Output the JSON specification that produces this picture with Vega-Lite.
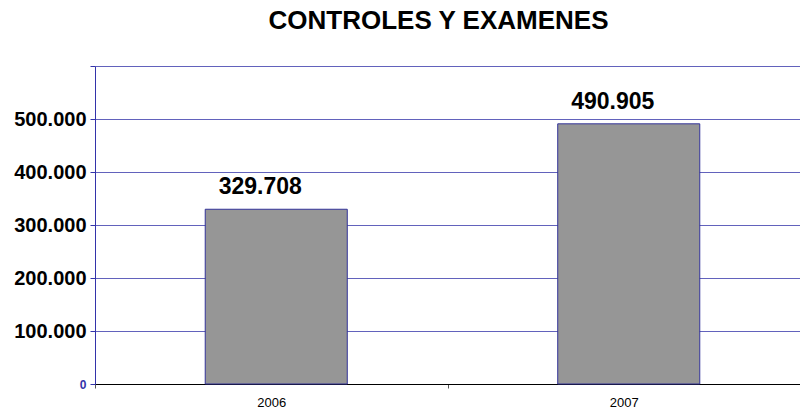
{
  "$schema": "https://vega.github.io/schema/vega-lite/v6.json",
  "autosize": {"type": "none"},
  "width": 705,
  "height": 318,
  "padding": {"left": 95, "top": 66, "right": 0, "bottom": 28},
  "background": "white",
  "title": {
    "text": "CONTROLES Y EXAMENES",
    "font": "Liberation Sans",
    "fontSize": 26,
    "fontWeight": "bold",
    "color": "black",
    "anchor": "middle",
    "baseline": "alphabetic",
    "offset": 11,
    "dx": -9
  },
  "config": {
    "view": {"stroke": null},
    "font": "Liberation Sans"
  },
  "data": {
    "values": [
      {"year": "2006", "value": 329708, "label": "329.708"},
      {"year": "2007", "value": 490905, "label": "490.905"}
    ]
  },
  "encoding": {
    "x": {
      "field": "year",
      "type": "nominal",
      "scale": {"paddingInner": 0, "paddingOuter": 0},
      "axis": {
        "title": null,
        "labelAngle": 0,
        "labelFont": "Liberation Sans",
        "labelFontSize": 13,
        "labelColor": "black",
        "labelPadding": 8,
        "domainColor": "black",
        "domainWidth": 1,
        "tickBand": "extent",
        "tickColor": "#555555",
        "tickSize": 4,
        "grid": false
      }
    },
    "y": {
      "field": "value",
      "type": "quantitative",
      "scale": {"domain": [0, 600000], "nice": false},
      "axis": {
        "title": null,
        "values": [0, 100000, 200000, 300000, 400000, 500000, 600000],
        "labelExpr": "datum.value >= 600000 ? '' : (datum.value == 0 ? '0' : (datum.value / 1000) + '.000')",
        "labelFont": "Liberation Sans",
        "labelFontWeight": "bold",
        "labelFontSize": {"condition": {"test": "datum.value == 0", "value": 12}, "value": 20},
        "labelColor": {"condition": {"test": "datum.value == 0", "value": "#3333aa"}, "value": "black"},
        "labelPadding": 4,
        "domainColor": "#3333aa",
        "tickColor": "#3333aa",
        "tickSize": 5,
        "grid": true,
        "gridColor": "#4646b0",
        "gridWidth": 1,
        "gridOpacity": 0.85
      }
    }
  },
  "layer": [
    {
      "mark": {"type": "bar", "width": {"band": 0.403}, "fill": "#969696", "stroke": "#333399", "strokeWidth": 1, "xOffset": 5}
    },
    {
      "mark": {"type": "text", "font": "Liberation Sans", "fontSize": 23, "fontWeight": "bold", "color": "black", "baseline": "alphabetic", "dy": -15, "dx": -11},
      "encoding": {"text": {"field": "label"}}
    }
  ]
}
